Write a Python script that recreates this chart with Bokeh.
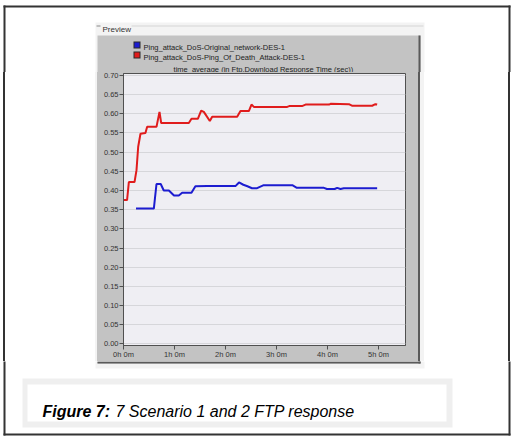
from bokeh.plotting import figure
from bokeh.models import FixedTicker, Range1d, Spacer
from bokeh.layouts import column, row
from bokeh.core.properties import value
from bokeh.embed import file_html
from bokeh.resources import INLINE

# ---- data (hours, seconds) ----
red_h = [0, 0.07, 0.105, 0.216, 0.255, 0.288, 0.333, 0.43, 0.464, 0.647, 0.706, 0.739,
         1.281, 1.333, 1.458, 1.523, 1.575, 1.693, 1.739, 2.229, 2.294, 2.458, 2.51, 2.556,
         3.21, 3.25, 3.5, 3.57, 4.03, 4.06, 4.42, 4.48, 4.876, 4.94, 4.974]
red_v = [0.375, 0.375, 0.422, 0.422, 0.453, 0.514, 0.548, 0.55, 0.566, 0.566, 0.605, 0.576,
         0.576, 0.587, 0.587, 0.608, 0.605, 0.581, 0.592, 0.592, 0.607, 0.607, 0.624, 0.618,
         0.618, 0.620, 0.620, 0.624, 0.624, 0.626, 0.625, 0.621, 0.621, 0.625, 0.624]
blue_h = [0.245, 0.595, 0.647, 0.73, 0.79, 0.89, 0.99, 1.085, 1.15, 1.333, 1.41, 1.64,
          2.2, 2.265, 2.35, 2.43, 2.52, 2.62, 2.75, 3.31, 3.4, 3.93, 3.99, 4.14, 4.19,
          4.255, 4.32, 4.974]
blue_v = [0.353, 0.353, 0.417, 0.417, 0.400, 0.400, 0.387, 0.387, 0.394, 0.394, 0.411, 0.412,
          0.412, 0.421, 0.415, 0.411, 0.406, 0.406, 0.414, 0.414, 0.407, 0.407, 0.404, 0.404,
          0.407, 0.404, 0.406, 0.406]
series_names = ["Ping_attack_DoS-Original_network-DES-1",
                "Ping_attack_DoS-Ping_Of_Death_Attack-DES-1"]
series_colors = ["#1c1cd0", "#e01c1c"]
chart_title = "time_average (in Ftp.Download Response Time (sec))"
x_ticks = [0, 1, 2, 3, 4, 5]
x_tick_labels = ["0h 0m", "1h 0m", "2h 0m", "3h 0m", "4h 0m", "5h 0m"]
y_ticks = [round(0.05 * i, 2) for i in range(15)]
caption_bold = "Figure 7:"
caption_rest = "7 Scenario 1 and 2 FTP response"

W, H = 518, 438
FONT = "Liberation Sans"
GREY = "#c3c3c3"
LIGHT = "#f3f3f3"
EDGE = "#5a5a5a"
FRAME = "#333333"

# page decoration rectangles in page pixels: left, top, right, bottom, colour
deco = [
    (95, 22, 424, 368, LIGHT),          # preview group area
    (131, 25, 423, 26, "#d6d6d6"),      # group line
    (96, 25, 100, 26, "#8a8a8a"),
    (97, 35, 420, 363, GREY),           # grey panel
    (418, 35, 420, 363, EDGE),          # panel edges
    (97, 361, 420, 363, EDGE),
    (22, 378, 452, 427, "#efefef"),     # caption box
    (27, 384, 446, 421, "#ffffff"),
    (3, 5, 510, 7, FRAME),              # outer frame
    (3, 433, 510, 435, FRAME),
    (3, 5, 5, 435, FRAME),
    (508, 5, 510, 435, FRAME),
    (133, 41, 140, 48, "#2a2a2a"),      # legend swatches
    (134, 42, 139, 47, series_colors[0]),
    (133, 51, 140, 58, "#2a2a2a"),
    (134, 52, 139, 57, series_colors[1]),
]


def deco_fig(x0, y0, w, h):
    f = figure(width=w, height=h, output_backend="svg", toolbar_location=None,
               x_range=Range1d(x0, x0 + w), y_range=Range1d(y0 + h, y0),
               x_axis_type=None, y_axis_type=None,
               min_border_left=0, min_border_right=0, min_border_top=0, min_border_bottom=0)
    f.outline_line_color = None
    f.background_fill_color = "white"
    f.border_fill_color = "white"
    f.quad(left=[d[0] for d in deco], top=[d[1] for d in deco],
           right=[d[2] for d in deco], bottom=[d[3] for d in deco],
           fill_color=[d[4] for d in deco], line_color=None)
    return f


TOP_H = 72
B_X0, B_X1 = 97, 418
B_Y1 = 361

top = deco_fig(0, 0, W, TOP_H)
top.text(x=[102], y=[29], text=["Preview"], text_font=value(FONT), text_font_size="8px",
         text_color="#333333", text_baseline="alphabetic")
top.text(x=[143, 143], y=[47, 57], text=series_names, text_font=value(FONT),
         text_font_size="7.5px", text_color="#222222", text_baseline="alphabetic")
top.text(x=[263], y=[68.5], text=[chart_title], text_font=value(FONT), text_font_size="7.5px",
         text_color="#222222", text_align="center", text_baseline="alphabetic")

bottom = deco_fig(0, B_Y1, W, H - B_Y1)
bottom.text(x=[42], y=[411], text=[caption_bold], text_font=value(FONT), text_font_size="16px",
            text_font_style="bold italic", text_color="black", text_baseline="alphabetic")
bottom.text(x=[115], y=[411], text=[caption_rest], text_font=value(FONT), text_font_size="16px",
            text_font_style="italic", text_color="black", text_baseline="alphabetic")

# ---- main chart ----
p = figure(width=B_X1 - B_X0, height=B_Y1 - TOP_H, output_backend="svg", toolbar_location=None,
           x_range=Range1d(0, 5.53), y_range=Range1d(-0.004, 0.705),
           min_border_left=123 - B_X0, min_border_right=B_X1 - 405,
           min_border_top=73 - TOP_H, min_border_bottom=B_Y1 - 348)
p.border_fill_color = GREY
p.background_fill_color = "#efeef3"
p.outline_line_color = "#505050"

p.line(blue_h, blue_v, line_color=series_colors[0], line_width=2)
p.line(red_h, red_v, line_color=series_colors[1], line_width=2)

p.xgrid.visible = False
p.ygrid.ticker = FixedTicker(ticks=y_ticks)
p.ygrid.grid_line_color = "#d6d6da"

p.yaxis.ticker = FixedTicker(ticks=y_ticks)
p.yaxis.major_label_overrides = {t: f"{t:.2f}" for t in y_ticks}
p.xaxis.ticker = FixedTicker(ticks=x_ticks)
p.xaxis.major_label_overrides = {t: l for t, l in zip(x_ticks, x_tick_labels)}
for ax in (p.xaxis, p.yaxis):
    ax.axis_line_color = "#505050"
    ax.major_tick_line_color = "#505050"
    ax.major_tick_out = 4
    ax.major_tick_in = 0
    ax.minor_tick_line_color = None
    ax.minor_tick_out = 0
    ax.major_label_text_font = FONT
    ax.major_label_text_font_size = "7.5px"
    ax.major_label_text_color = "#333333"
p.xaxis.major_label_standoff = 0
p.yaxis.major_label_standoff = 1

# side strips of the middle band, painted as a CSS background behind the row
stops = [("#ffffff", 0, 3), (FRAME, 3, 5), ("#ffffff", 5, 95), (LIGHT, 95, 97),
         (GREY, 97, 418), (EDGE, 418, 420), (LIGHT, 420, 424), ("#ffffff", 424, 508),
         (FRAME, 508, 510), ("#ffffff", 510, 518)]
grad = "linear-gradient(to right, " + ", ".join(f"{c} {a}px {b}px" for c, a, b in stops) + ")"
mid_h = B_Y1 - TOP_H
left = Spacer(width=B_X0, height=mid_h)
right = Spacer(width=W - B_X1, height=mid_h)
mid = row(left, p, right, spacing=0, width=W, height=mid_h,
          styles={"background-image": grad})

layout = column(top, mid, bottom, spacing=0)
open("out.html", "w").write(file_html(layout, INLINE))
